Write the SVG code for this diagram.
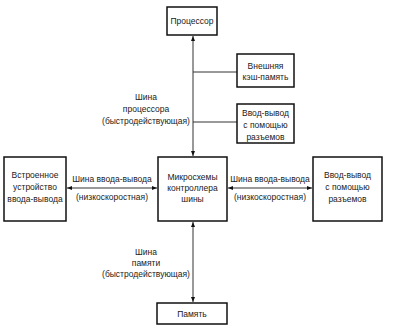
<svg xmlns="http://www.w3.org/2000/svg" width="417" height="327" viewBox="0 0 417 327">
<defs>
<marker id="ah" viewBox="0 0 10 10" refX="10" refY="5" markerWidth="5" markerHeight="6" orient="auto-start-reverse" markerUnits="userSpaceOnUse">
<path d="M0,1 L10,5 L0,9 z" fill="#111"/>
</marker>
<style>
.box{fill:#fff;stroke:#111;stroke-width:1.5}
.t{font-family:"Liberation Sans","DejaVu Sans",sans-serif;font-size:8.5px;fill:#1a1a1a;text-anchor:middle}
.ln{stroke:#333;stroke-width:1;fill:none}
</style>
</defs>
<rect width="417" height="327" fill="#fff"/>
<g id="connectors">
<line class="ln" x1="193" y1="36" x2="193" y2="156" marker-start="url(#ah)" marker-end="url(#ah)"/>
<line class="ln" x1="193" y1="72" x2="237" y2="72"/>
<line class="ln" x1="193" y1="122" x2="237" y2="122"/>
<line class="ln" x1="193" y1="222" x2="193" y2="302" marker-start="url(#ah)" marker-end="url(#ah)"/>
<line class="ln" x1="67" y1="188" x2="157" y2="188" marker-start="url(#ah)" marker-end="url(#ah)"/>
<line class="ln" x1="228" y1="188" x2="312" y2="188" marker-start="url(#ah)" marker-end="url(#ah)"/>
<text class="t" x="146" y="100">Шина</text>
<text class="t" x="146" y="112">процессора</text>
<text class="t" x="146" y="124">(быстродействующая)</text>
<text class="t" x="146" y="255">Шина</text>
<text class="t" x="146" y="266">памяти</text>
<text class="t" x="146" y="277">(быстродействующая)</text>
<text class="t" x="112" y="182">Шина ввода-вывода</text>
<text class="t" x="112" y="200">(низкоскоростная)</text>
<text class="t" x="270" y="182">Шина ввода-вывода</text>
<text class="t" x="270" y="200">(низкоскоростная)</text>
</g>
<g id="processor">
<rect class="box" x="167" y="7" width="50" height="28"/>
<text class="t" x="192" y="24">Процессор</text>
</g>
<g id="cache">
<rect class="box" x="237" y="54" width="57" height="33"/>
<text class="t" x="265.5" y="69">Внешняя</text>
<text class="t" x="265.5" y="80">кэш-память</text>
</g>
<g id="io-top">
<rect class="box" x="237" y="104" width="57" height="39"/>
<text class="t" x="265.5" y="116">Ввод-вывод</text>
<text class="t" x="265.5" y="128">с помощью</text>
<text class="t" x="265.5" y="140">разъемов</text>
</g>
<g id="embedded">
<rect class="box" x="4" y="157" width="62" height="64"/>
<text class="t" x="35" y="178">Встроенное</text>
<text class="t" x="35" y="190">устройство</text>
<text class="t" x="35" y="202">ввода-вывода</text>
</g>
<g id="controller">
<rect class="box" x="158" y="157" width="69" height="64"/>
<text class="t" x="192.5" y="180">Микросхемы</text>
<text class="t" x="192.5" y="191">контроллера</text>
<text class="t" x="192.5" y="202">шины</text>
</g>
<g id="io-right">
<rect class="box" x="313" y="157" width="69" height="64"/>
<text class="t" x="347.5" y="178">Ввод-вывод</text>
<text class="t" x="347.5" y="190">с помощью</text>
<text class="t" x="347.5" y="202">разъемов</text>
</g>
<g id="memory">
<rect class="box" x="157" y="303" width="70" height="21"/>
<text class="t" x="192" y="317">Память</text>
</g>
</svg>
